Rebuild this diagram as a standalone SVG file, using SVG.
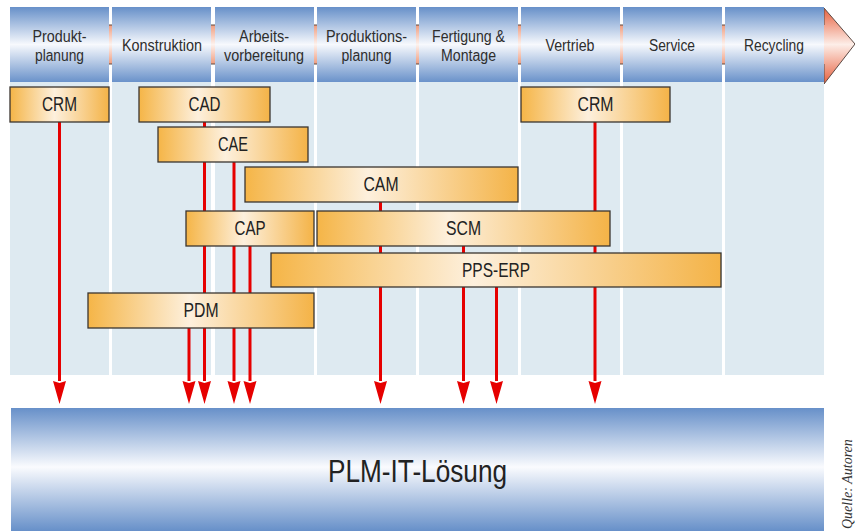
<svg xmlns="http://www.w3.org/2000/svg" width="855" height="531" viewBox="0 0 855 531">
<style>
.hdr{fill:url(#gHdr)}
.col{fill:#deeaf1}
.ht{font-family:"Liberation Sans",Arial,sans-serif;font-size:16px;fill:#2e2e2e;text-anchor:middle}
.box{fill:url(#gBox);stroke:#3a3530;stroke-width:1.3}
.bt{font-family:"Liberation Sans",Arial,sans-serif;font-size:20px;fill:#222;text-anchor:middle}
.con{stroke:#e60000;stroke-width:3;fill:none;marker-end:url(#ah)}
</style>
<defs>
<linearGradient id="gHdr" x1="0" y1="0" x2="0" y2="1">
<stop offset="0" stop-color="#6790c9"/>
<stop offset="0.5" stop-color="#f7f9fd"/>
<stop offset="1" stop-color="#6a92ca"/>
</linearGradient>
<linearGradient id="gBand" x1="0" y1="408" x2="0" y2="531" gradientUnits="userSpaceOnUse">
<stop offset="0" stop-color="#6790c9"/>
<stop offset="0.48" stop-color="#fafbfe"/>
<stop offset="1" stop-color="#6790c9"/>
</linearGradient>
<linearGradient id="gBox" x1="0" y1="0" x2="1" y2="0">
<stop offset="0" stop-color="#f5b547"/>
<stop offset="0.45" stop-color="#fdf0dd"/>
<stop offset="1" stop-color="#f4b347"/>
</linearGradient>
<linearGradient id="gShaft" x1="0" y1="25" x2="0" y2="64" gradientUnits="userSpaceOnUse">
<stop offset="0" stop-color="#ef9c7e"/>
<stop offset="0.5" stop-color="#fdf2ee"/>
<stop offset="1" stop-color="#ef9c7e"/>
</linearGradient>
<linearGradient id="gHead" x1="0" y1="8" x2="0" y2="84" gradientUnits="userSpaceOnUse">
<stop offset="0" stop-color="#e7603e"/>
<stop offset="0.48" stop-color="#fdeee8"/>
<stop offset="1" stop-color="#e7603e"/>
</linearGradient>
<marker id="ah" viewBox="0 -7 23 14" refX="0" refY="0" markerWidth="23" markerHeight="14" markerUnits="userSpaceOnUse" orient="auto">
<path d="M0,-6.5 L23,0 L0,6.5 L2,0 Z" fill="#e60000"/>
</marker>
</defs>

<g id="process-arrow">
<rect x="10" y="25" width="815" height="39" fill="url(#gShaft)"/>
<polygon points="824,8 855,44 824,84" fill="url(#gHead)"/>
<path d="M10,25 H824 V8 L855,44 L824,84 V64 H10" fill="none" stroke="#5a4a45" stroke-width="1"/>
</g>

<g id="phase-produktplanung">
<rect class="hdr" x="10" y="7" width="99" height="75"/>
<rect class="col" x="10" y="82" width="99" height="293"/>
<text class="ht" x="59.5" y="42" textLength="54" lengthAdjust="spacingAndGlyphs">Produkt-</text>
<text class="ht" x="59.5" y="61" textLength="49" lengthAdjust="spacingAndGlyphs">planung</text>
</g>
<g id="phase-konstruktion">
<rect class="hdr" x="112" y="7" width="99" height="75"/>
<rect class="col" x="112" y="82" width="99" height="293"/>
<text class="ht" x="162" y="51" textLength="80" lengthAdjust="spacingAndGlyphs">Konstruktion</text>
</g>
<g id="phase-arbeitsvorbereitung">
<rect class="hdr" x="215" y="7" width="99" height="75"/>
<rect class="col" x="215" y="82" width="99" height="293"/>
<text class="ht" x="264" y="42" textLength="50" lengthAdjust="spacingAndGlyphs">Arbeits-</text>
<text class="ht" x="264" y="61" textLength="80" lengthAdjust="spacingAndGlyphs">vorbereitung</text>
</g>
<g id="phase-produktionsplanung">
<rect class="hdr" x="317" y="7" width="99" height="75"/>
<rect class="col" x="317" y="82" width="99" height="293"/>
<text class="ht" x="366.5" y="42" textLength="81" lengthAdjust="spacingAndGlyphs">Produktions-</text>
<text class="ht" x="366.5" y="61" textLength="50" lengthAdjust="spacingAndGlyphs">planung</text>
</g>
<g id="phase-fertigung">
<rect class="hdr" x="419" y="7" width="99" height="75"/>
<rect class="col" x="419" y="82" width="99" height="293"/>
<text class="ht" x="468.5" y="42" textLength="73" lengthAdjust="spacingAndGlyphs">Fertigung &amp;</text>
<text class="ht" x="468.5" y="61" textLength="55" lengthAdjust="spacingAndGlyphs">Montage</text>
</g>
<g id="phase-vertrieb">
<rect class="hdr" x="521" y="7" width="99" height="75"/>
<rect class="col" x="521" y="82" width="99" height="293"/>
<text class="ht" x="570" y="51" textLength="49" lengthAdjust="spacingAndGlyphs">Vertrieb</text>
</g>
<g id="phase-service">
<rect class="hdr" x="623" y="7" width="99" height="75"/>
<rect class="col" x="623" y="82" width="99" height="293"/>
<text class="ht" x="672" y="51" textLength="46" lengthAdjust="spacingAndGlyphs">Service</text>
</g>
<g id="phase-recycling">
<rect class="hdr" x="725" y="7" width="99" height="75"/>
<rect class="col" x="725" y="82" width="99" height="293"/>
<text class="ht" x="774" y="51" textLength="60" lengthAdjust="spacingAndGlyphs">Recycling</text>
</g>

<g id="connectors">
<line class="con" x1="59.5" y1="122" x2="59.5" y2="381"/>
<line class="con" x1="189" y1="328" x2="189" y2="381"/>
<line class="con" x1="204.5" y1="122" x2="204.5" y2="381"/>
<line class="con" x1="234" y1="162" x2="234" y2="381"/>
<line class="con" x1="250" y1="246" x2="250" y2="381"/>
<line class="con" x1="380.5" y1="202" x2="380.5" y2="381"/>
<line class="con" x1="463.5" y1="246" x2="463.5" y2="381"/>
<line class="con" x1="496.5" y1="287" x2="496.5" y2="381"/>
<line class="con" x1="595" y1="122" x2="595" y2="381"/>
</g>

<g id="crm-1">
<rect class="box" x="10" y="87" width="99" height="35"/>
<text class="bt" x="59.5" y="111" textLength="35" lengthAdjust="spacingAndGlyphs">CRM</text>
</g>
<g id="cad">
<rect class="box" x="139" y="87" width="131" height="35"/>
<text class="bt" x="204.5" y="111" textLength="32" lengthAdjust="spacingAndGlyphs">CAD</text>
</g>
<g id="crm-2">
<rect class="box" x="521" y="87" width="149" height="35"/>
<text class="bt" x="595.5" y="111" textLength="36" lengthAdjust="spacingAndGlyphs">CRM</text>
</g>
<g id="cae">
<rect class="box" x="158" y="127" width="150" height="35"/>
<text class="bt" x="233" y="151" textLength="30" lengthAdjust="spacingAndGlyphs">CAE</text>
</g>
<g id="cam">
<rect class="box" x="245" y="167" width="273" height="35"/>
<text class="bt" x="381" y="191" textLength="35" lengthAdjust="spacingAndGlyphs">CAM</text>
</g>
<g id="cap">
<rect class="box" x="186" y="211" width="128" height="35"/>
<text class="bt" x="250" y="235" textLength="31" lengthAdjust="spacingAndGlyphs">CAP</text>
</g>
<g id="scm">
<rect class="box" x="317" y="211" width="293" height="35"/>
<text class="bt" x="463.5" y="235" textLength="35" lengthAdjust="spacingAndGlyphs">SCM</text>
</g>
<g id="pps-erp">
<rect class="box" x="271" y="253" width="450" height="34"/>
<text class="bt" x="496" y="277" textLength="68" lengthAdjust="spacingAndGlyphs">PPS-ERP</text>
</g>
<g id="pdm">
<rect class="box" x="88" y="293" width="226" height="35"/>
<text class="bt" x="201" y="317" textLength="35" lengthAdjust="spacingAndGlyphs">PDM</text>
</g>

<g id="plm-it-loesung">
<rect x="11" y="408" width="813" height="123" fill="url(#gBand)"/>
<text x="417.5" y="482" font-family="'Liberation Sans',Arial,sans-serif" font-size="32" fill="#222" text-anchor="middle" textLength="179" lengthAdjust="spacingAndGlyphs">PLM-IT-Lösung</text>
</g>

<text transform="translate(852,529) rotate(-90)" font-family="'Liberation Serif','Times New Roman',serif" font-style="italic" font-size="14" fill="#333">Quelle: Autoren</text>
</svg>
